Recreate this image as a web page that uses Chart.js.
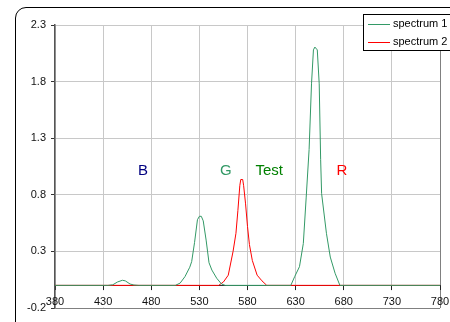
<!DOCTYPE html>
<html>
<head>
<meta charset="utf-8">
<script src="https://cdn.jsdelivr.net/npm/chart.js@4.4.1/dist/chart.umd.min.js"></script>
<style>
    html, body { margin: 0; padding: 0; background: #fff; overflow: hidden; }
    #wrap { position: relative; width: 450px; height: 322px; }
    #frame {
        position: absolute; left: 15px; top: 7px; width: 460px; height: 340px;
        border: 1.5px solid #000; border-radius: 11px; box-sizing: border-box;
    }
    #chart { position: absolute; left: 0; top: 0; }
</style>
</head>
<body>
<div id="wrap">
    <div id="frame"></div>
    <canvas id="chart" width="450" height="322"></canvas>
</div>
<script>
// ===== DATA =====
var spec1Wl  = [380, 435, 440, 445, 450, 453, 458, 462, 467,
                505, 510, 515, 520, 522, 525, 528, 530, 532, 534, 537, 540, 543, 548, 553, 557,
                625, 629, 634, 638, 641, 644, 646.5, 648.5, 650, 652.5, 654.5, 656, 657, 662, 666, 671, 676, 780];
var spec1Val = [0, 0, 0.005, 0.03, 0.045, 0.04, 0.012, 0.003, 0,
                0, 0.02, 0.077, 0.16, 0.21, 0.38, 0.58, 0.61, 0.61, 0.57, 0.40, 0.20, 0.135, 0.063, 0.012, 0,
                0, 0.077, 0.165, 0.37, 0.78, 1.2, 1.78, 2.08, 2.105, 2.08, 1.78, 1.11, 0.81, 0.46, 0.25, 0.107, 0, 0];

var spec2Wl  = [380, 550, 555, 560, 565, 568, 570, 572, 573, 575, 576, 578, 580, 582, 585, 590, 595, 600, 780];
var spec2Val = [0, 0, 0.03, 0.09, 0.30, 0.46, 0.66, 0.88, 0.935, 0.935, 0.88, 0.72, 0.52, 0.36, 0.22, 0.09, 0.04, 0, 0];

var seriesNames = ['spectrum 1', 'spectrum 2'];
var seriesColors = ['#339966', '#ff0000'];

var xTicks = [380, 430, 480, 530, 580, 630, 680, 730, 780];
var yTicks = [-0.2, 0.3, 0.8, 1.3, 1.8, 2.3];

// text labels inside the plot
var labelTexts  = ['B', 'G', 'Test', 'R'];
var labelX      = [471.5, 557.5, 602.5, 678];
var labelY      = [1.01, 1.01, 1.01, 1.01];
var labelColors = ['#000080', '#339966', '#008000', '#ff0000'];

var FONT = '"Liberation Sans", Arial, sans-serif';

function toPoints(xs, ys) {
    return xs.map(function(x, i) { return { x: x, y: ys[i] }; });
}

// ===== PLUGINS =====
// vertical gridlines stop at the zero line, like the original
var belowZero = {
    id: 'belowZero',
    beforeDatasetsDraw: function(chart) {
        var a = chart.chartArea;
        var zero = chart.scales.y.getPixelForValue(0);
        var ctx = chart.ctx;
        ctx.save();
        ctx.fillStyle = '#fff';
        ctx.fillRect(a.left + 1, zero + 5, a.right - a.left - 2, a.bottom - zero - 5.5);
        ctx.restore();
    }
};

var textLabels = {
    id: 'textLabels',
    afterDatasetsDraw: function(chart) {
        var ctx = chart.ctx;
        var xs = chart.scales.x, ys = chart.scales.y;
        ctx.save();
        ctx.font = '15px ' + FONT;
        ctx.textAlign = 'center';
        ctx.textBaseline = 'middle';
        labelTexts.forEach(function(t, i) {
            ctx.fillStyle = labelColors[i];
            ctx.fillText(t, xs.getPixelForValue(labelX[i]), ys.getPixelForValue(labelY[i]));
        });
        ctx.restore();
    }
};

var boxLegend = {
    id: 'boxLegend',
    afterDraw: function(chart) {
        var ctx = chart.ctx;
        var left = 363.5, top = 14.5, w = 95, h = 36;
        ctx.save();
        ctx.fillStyle = '#fff';
        ctx.fillRect(left, top, w, h);
        ctx.strokeStyle = '#000';
        ctx.lineWidth = 1;
        ctx.strokeRect(left, top, w, h);
        ctx.font = '11px ' + FONT;
        ctx.textBaseline = 'middle';
        ctx.textAlign = 'left';
        seriesNames.forEach(function(name, i) {
            var y = top + 9.5 + i * 17.5;
            ctx.strokeStyle = seriesColors[i];
            ctx.beginPath();
            ctx.moveTo(368, Math.round(y) + 0.5);
            ctx.lineTo(390, Math.round(y) + 0.5);
            ctx.stroke();
            ctx.fillStyle = '#000';
            ctx.fillText(name, 393, y);
        });
        ctx.restore();
    }
};

// ===== CHART =====
new Chart(document.getElementById('chart').getContext('2d'), {
    type: 'line',
    data: {
        datasets: [{
            label: seriesNames[0],
            data: toPoints(spec1Wl, spec1Val),
            borderColor: seriesColors[0],
            borderWidth: 1,
            pointRadius: 0,
            tension: 0
        }, {
            label: seriesNames[1],
            data: toPoints(spec2Wl, spec2Val),
            borderColor: seriesColors[1],
            borderWidth: 1,
            pointRadius: 0,
            tension: 0
        }]
    },
    options: {
        responsive: false,
        animation: false,
        layout: { padding: { top: 25, right: 10, bottom: 14, left: 0 } },
        plugins: {
            legend: { display: false },
            tooltip: { enabled: false }
        },
        scales: {
            x: {
                type: 'linear',
                position: { y: 0 },
                min: 380,
                max: 780,
                afterBuildTicks: function(scale) {
                    scale.ticks = xTicks.map(function(v) { return { value: v }; });
                },
                afterFit: function(scale) {
                    scale.paddingLeft = 0;
                    scale.paddingRight = 0;
                },
                grid: {
                    color: function(c) { return c.tick && c.tick.value === 780 ? '#808080' : '#c8c8c8'; },
                    tickColor: '#222',
                    tickLength: 4,
                    lineWidth: 1
                },
                border: { color: '#333', width: 1 },
                ticks: {
                    z: 1,
                    color: '#111',
                    font: { family: FONT, size: 11 },
                    padding: 6,
                    maxRotation: 0,
                    autoSkip: false
                }
            },
            y: {
                min: -0.2,
                max: 2.3,
                afterBuildTicks: function(scale) {
                    scale.ticks = yTicks.map(function(v) { return { value: v }; });
                },
                afterFit: function(scale) { scale.width = 55; },
                grid: {
                    color: function(c) { return c.tick && Math.abs(c.tick.value + 0.2) < 1e-6 ? '#808080' : '#c8c8c8'; },
                    tickColor: '#333',
                    tickLength: 4,
                    lineWidth: 1
                },
                border: { color: '#555', width: 1.5 },
                ticks: {
                    color: '#111',
                    font: { family: FONT, size: 11 },
                    padding: 5,
                    callback: function(v) { return (Math.round(v * 10) / 10).toFixed(1); }
                }
            }
        }
    },
    plugins: [belowZero, textLabels, boxLegend]
});
</script>
</body>
</html>
